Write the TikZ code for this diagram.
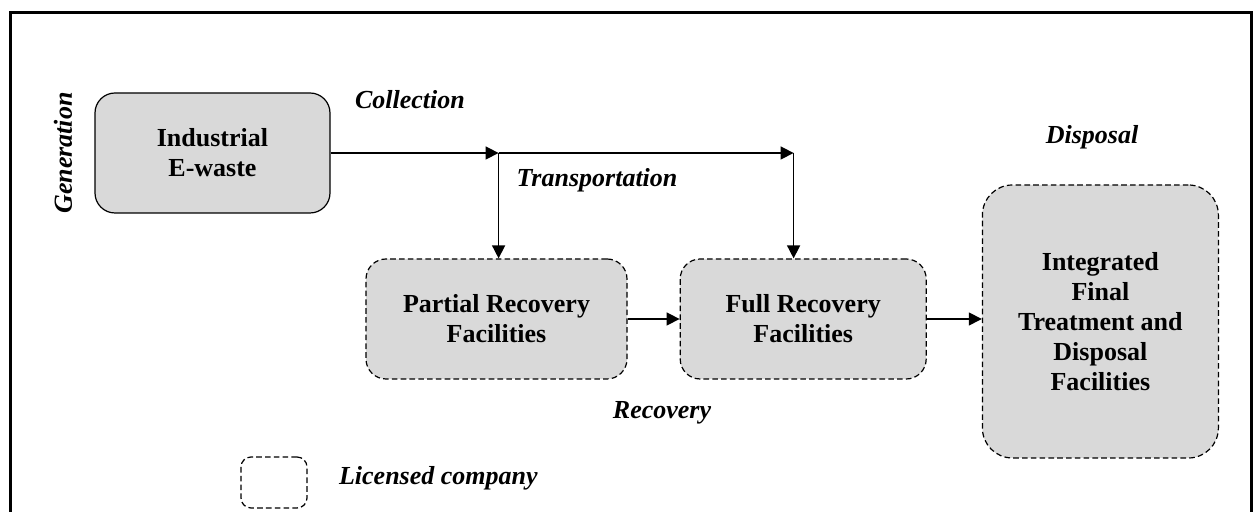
\documentclass[tikz,border=0pt]{standalone}
\usepackage{fontspec}
\setmainfont{Liberation Serif}
\usetikzlibrary{
	arrows.meta,
	positioning
}

\begin{document}
\begin{tikzpicture}[
				x=0.5pt, y=-0.5pt,
				facility/.style={
					rectangle, draw, fill=gray!30, rounded corners=10pt,
					line width=0.6pt, dash pattern=on 2.8pt off 1.6pt,
					inner sep=0pt, align=center,
					font=\fontsize{13}{15}\selectfont\bfseries
				},
				sourcebox/.style={
					facility, solid
				},
				stagelabel/.style={
					font=\fontsize{13}{15}\selectfont\bfseries\itshape
				},
				arrow/.style={-{Triangle[length=6.5pt,width=6.5pt]}, line width=0.75pt, black}
				]
				
				\useasboundingbox (0,0) rectangle (1255,512);
				
				% frame
				\draw[line width=1.5pt] (10,512) |- (1251,13) -- (1251,512);
				
				% Industrial E-waste
				\node[sourcebox, minimum width=117.5pt, minimum height=60pt] (ewaste) at (212.5,153) {Industrial\\E-waste};
				
				% partial recovery
				\node[facility, minimum width=130.5pt, minimum height=60pt] (partial) at (496.5,319) {Partial Recovery\\Facilities};
				
				% full recovery
				\node[facility, minimum width=123pt, minimum height=60pt, right=26pt of partial] (full) {Full Recovery\\Facilities};
				
				% final treatment and disposal
				\node[facility, minimum width=118pt, minimum height=136.5pt, rounded corners=15pt, right=27.5pt of full, yshift=-1.25pt] (integ) {Integrated\\Final\\Treatment and\\Disposal\\Facilities};
				
				% stage labels
				\node[stagelabel, rotate=90] (generation) at (63,153) {Generation};
				\node[stagelabel] (collection) at (410,100) {Collection};
				\node[stagelabel] (transport) at (597,180) {Transportation};
				\node[stagelabel] (recovery) at (662,413) {Recovery};
				\node[stagelabel] (disposal) at (1092,137) {Disposal};
				
				% legend
				\node[facility, fill=none, rounded corners=5pt, minimum width=33pt, minimum height=25.5pt] (legend) at (274,482.5) {};
				\node[stagelabel, anchor=west] (licensed) at (332,478) {Licensed company};
				
				% branch points
				\path (ewaste.east) ++(168,0) coordinate (split);
				\path (split) ++(295,0) coordinate (split2);
				
				% arrows
				\draw[arrow] (ewaste.east) -- (split);
				\draw[arrow] (split)       -- (split2);
				\draw[arrow] (split)       -- (split |- partial.north);
				\draw[arrow] (split2)      -- (split2 |- full.north);
				\draw[arrow] (partial)     -- (full);
				\draw[arrow] (full.east)   -- (full.east -| integ.west);
			\end{tikzpicture}
\end{document}
